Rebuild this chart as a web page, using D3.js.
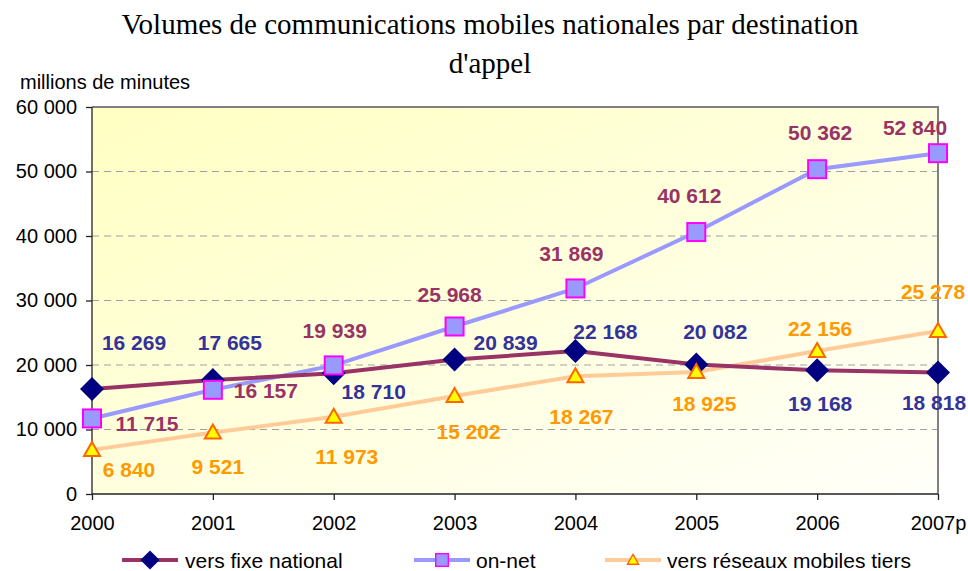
<!DOCTYPE html>
<html><head><meta charset="utf-8">
<script src="https://cdn.jsdelivr.net/npm/d3@7"></script>
<style>body{margin:0;background:#fff}svg{display:block}</style>
</head><body><svg id="c" width="968" height="571"></svg>
<script>
const categories = ["2000","2001","2002","2003","2004","2005","2006","2007p"];
const fixeNational = [16269,17665,18710,20839,22168,20082,19168,18818];
const onNet = [11715,16157,19939,25968,31869,40612,50362,52840];
const mobilesTiers = [6840,9521,11973,15202,18267,18925,22156,25278];
const yTicks = [0,10000,20000,30000,40000,50000,60000];
const seriesNames = ["vers fixe national","on-net","vers réseaux mobiles tiers"];

// label placement offsets (layout only)
const offFixe = [[42,-47],[17,-38],[40,18],[51,-17],[30,-20],[19,-33],[3,33],[-4,30]];
const offOnNet = [[55,5],[53,1],[1,-35],[-5,-32],[-4,-35],[-7,-37],[3,-37],[-23,-26]];
const offMob = [[37,20],[5,34],[13,40],[14,36],[6,40],[8,32],[3,-23],[-5,-39]];

const svg = d3.select("#c");
const L=92,R=938,T=107,B=494;
const x = d3.scalePoint().domain(categories).range([L,R]);
const y = d3.scaleLinear().domain([0,60000]).range([B,T]);
const fmt = v => d3.format(",")(v).replace(/,/g," ");
const SANS = "Liberation Sans, Arial, sans-serif";

const defs = svg.append("defs");
const g = defs.append("linearGradient").attr("id","bg").attr("x1","0").attr("y1","0").attr("x2","1").attr("y2","1");
g.append("stop").attr("offset","0").attr("stop-color","#FFFFC2");
g.append("stop").attr("offset","1").attr("stop-color","#FFFFFA");
svg.append("rect").attr("x",L).attr("y",T).attr("width",R-L).attr("height",B-T).attr("fill","url(#bg)");

// grid
svg.append("g").selectAll("line").data(yTicks.filter(d=>d>0&&d<60000)).join("line")
 .attr("x1",L).attr("x2",R).attr("y1",d=>y(d)).attr("y2",d=>y(d))
 .attr("stroke","#a0a0a0").attr("stroke-dasharray","7,5").attr("stroke-width",1);
// border top/right
svg.append("path").attr("d",`M${L},${T}H${R}V${B}`).attr("fill","none").attr("stroke","#808080").attr("stroke-width",2);

// axes
const ya = svg.append("g").attr("transform",`translate(${L},0)`)
 .call(d3.axisLeft(y).tickValues(yTicks).tickFormat(fmt).tickSize(6).tickPadding(9));
const xa = svg.append("g").attr("transform",`translate(0,${B})`)
 .call(d3.axisBottom(x).tickSize(6).tickPadding(16));
[ya,xa].forEach(a=>{a.selectAll("path,line").attr("stroke","#222").attr("stroke-width",1.3);
 a.selectAll("text").attr("font-family",SANS).attr("font-size",20).attr("fill","#000");});
ya.select(".domain").attr("d",`M0,${T}V${B}`);
xa.select(".domain").attr("d",`M${L},0H${R}`);

const series = [
 {vals:fixeNational,line:"#993366",lab:"#333399",off:offFixe,mk:"diamond"},
 {vals:onNet,line:"#9999FF",lab:"#993366",off:offOnNet,mk:"square"},
 {vals:mobilesTiers,line:"#FFCC99",lab:"#FF9900",off:offMob,mk:"triangle"}
];
function marker(sel,type){
 if(type==="diamond") sel.append("path").attr("d","M0,-12L12,0L0,12L-12,0Z").attr("fill","#000080");
 else if(type==="square") sel.append("rect").attr("x",-9).attr("y",-9).attr("width",18).attr("height",18).attr("fill","#9999FF").attr("stroke","#FF00FF").attr("stroke-width",2);
 else sel.append("path").attr("d","M0,-8L8,6L-8,6Z").attr("fill","#FFFF00").attr("stroke","#FF6600").attr("stroke-width",2).attr("stroke-linejoin","miter");
}
const line = d3.line().x((d,i)=>x(categories[i])).y(d=>y(d));
[2,1,0].forEach(k=>{
 svg.append("path").datum(series[k].vals).attr("d",line).attr("fill","none").attr("stroke",series[k].line).attr("stroke-width",4);
});
[0,1,2].forEach(k=>{
 series[k].vals.forEach((v,i)=>{
  const m = svg.append("g").attr("transform",`translate(${x(categories[i])},${y(v)})`);
  marker(m,series[k].mk);
 });
});
series.forEach(s=>{
 svg.append("g").selectAll("text").data(s.vals).join("text")
  .attr("x",(d,i)=>x(categories[i])+s.off[i][0]).attr("y",(d,i)=>y(d)+s.off[i][1])
  .attr("text-anchor","middle").attr("dominant-baseline","central")
  .attr("font-family",SANS).attr("font-weight","bold").attr("font-size",21)
  .attr("fill",s.lab).text(fmt);
});

// title
const SERIF = "Liberation Serif, Times New Roman, serif";
svg.append("text").attr("x",490).attr("y",34).attr("text-anchor","middle").attr("font-family",SERIF).attr("font-size",29).text("Volumes de communications mobiles nationales par destination");
svg.append("text").attr("x",490).attr("y",73).attr("text-anchor","middle").attr("font-family",SERIF).attr("font-size",29).text("d'appel");
svg.append("text").attr("x",20).attr("y",89).attr("font-family",SANS).attr("font-size",20).text("millions de minutes");

// legend
const legX=[122,414,605];
series.forEach((s,k)=>{
 const lg = svg.append("g").attr("transform",`translate(${legX[k]},560)`);
 lg.append("line").attr("x1",0).attr("x2",56).attr("stroke",s.line).attr("stroke-width",4);
 const m = lg.append("g").attr("transform",`translate(28,0) scale(${k===0?0.8:0.7})`);
 marker(m,s.mk);
 lg.append("text").attr("x",k===0?63:62).attr("y",0).attr("dominant-baseline","central").attr("font-family",SANS).attr("font-size",21).text(seriesNames[k]);
});
</script></body></html>
